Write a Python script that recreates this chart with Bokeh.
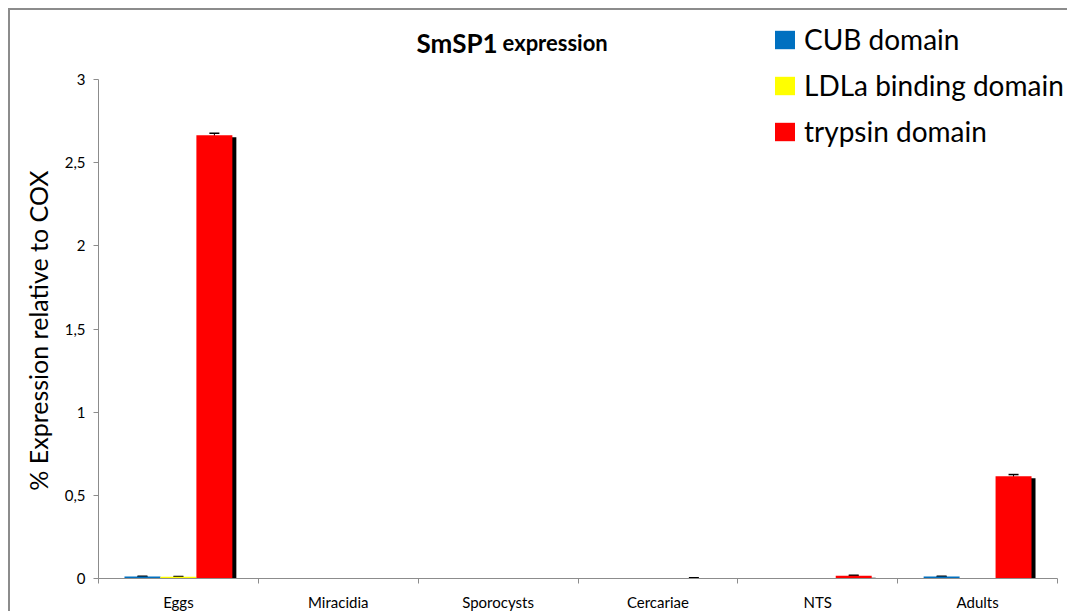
from bokeh.plotting import figure
from bokeh.models import (ColumnDataSource, Whisker, TeeHead, FixedTicker, Legend, LegendItem,
                          Label, Range1d, Title)
from bokeh.embed import file_html
from bokeh.resources import INLINE

categories = ["Eggs", "Miracidia", "Sporocysts", "Cercariae", "NTS", "Adults"]
series = ["CUB domain", "LDLa binding domain", "trypsin domain"]
cub = [0.012, 0, 0, 0, 0, 0.012]
cub_err = [0.002, 0, 0, 0, 0, 0.002]
ldla = [0.01, 0, 0, 0, 0, 0]
ldla_err = [0.002, 0, 0, 0, 0, 0]
trypsin = [2.665, 0, 0, 0.002, 0.016, 0.615]
trypsin_err = [0.012, 0, 0, 0.003, 0.003, 0.01]
y_ticks = [0, 0.5, 1, 1.5, 2, 2.5, 3]
y_tick_labels = ["0", "0,5", "1", "1,5", "2", "2,5", "3"]
y_title = "% Expression relative to COX"

colors = ["#0070C0", "#FFFF00", "#FF0000"]
FONT = "Lato"
BAR_W = 0.225
offsets = [-BAR_W, 0.0, BAR_W]
SH_DX = 0.025   # shadow shift (x units)
SH_DY = 0.012   # shadow shift (y units)
Y_AXIS_MAX = 3
Y_VIEW_END = 3 * 568 / 499     # room above the axis for title and legend
X_VIEW_END = 6 * 971 / 959     # room right of the axis for the legend text

p = figure(width=1059, height=603, output_backend="svg", toolbar_location=None,
           x_range=Range1d(0, X_VIEW_END), y_range=Range1d(0, Y_VIEW_END),
           min_border_left=88, min_border_right=0, min_border_top=0, min_border_bottom=35)
p.styles = {"margin-left": "8px", "margin-top": "8px",
            "border-left": "2px solid #8c8c8c", "border-top": "2px solid #8c8c8c"}
p.outline_line_color = None
p.xgrid.grid_line_color = None
p.ygrid.grid_line_color = None
p.background_fill_color = "white"
p.border_fill_color = "white"

all_vals = [cub, ldla, trypsin]
all_errs = [cub_err, ldla_err, trypsin_err]
items = []
for k, (name, vals, errs) in enumerate(zip(series, all_vals, all_errs)):
    xs = [i + 0.5 + offsets[k] for i in range(len(categories))]
    src = ColumnDataSource(dict(x=xs, top=vals))
    shadow = ColumnDataSource(dict(x=[x + SH_DX for x in xs], top=[max(v - SH_DY, 0) for v in vals]))
    p.vbar(x="x", top="top", width=BAR_W, source=shadow, fill_color="black", line_color=None)
    r = p.vbar(x="x", top="top", width=BAR_W, source=src, fill_color=colors[k], line_color=None)
    items.append(LegendItem(label=name, renderers=[r]))
    ex = [x for x, e in zip(xs, errs) if e > 0]
    ev = [v for v, e in zip(vals, errs) if e > 0]
    ee = [e for e in errs if e > 0]
    esrc = ColumnDataSource(dict(x=ex, lo=[v - e for v, e in zip(ev, ee)], hi=[v + e for v, e in zip(ev, ee)]))
    w = Whisker(base="x", lower="lo", upper="hi", source=esrc, line_color="black", line_width=1,
                upper_head=TeeHead(size=10, line_color="black", line_width=1.5),
                lower_head=TeeHead(size=10, line_color="black", line_width=1.5))
    p.add_layout(w)

# axes
ax = p.xaxis[0]
ax.bounds = (0, len(categories))
ax.ticker = FixedTicker(ticks=[i + 0.5 for i in range(len(categories))],
                        minor_ticks=list(range(len(categories) + 1)))
ax.major_label_overrides = {i + 0.5: c for i, c in enumerate(categories)}
ax.major_tick_line_color = None
ax.major_tick_out = 0
ax.major_tick_in = 0
ax.minor_tick_line_color = "#8c8c8c"
ax.minor_tick_out = 5
ax.minor_tick_in = 0
ax.axis_line_color = "#8c8c8c"
ax.major_label_text_font = FONT
ax.major_label_text_font_size = "15px"
ax.major_label_text_color = "black"
ax.major_label_standoff = 9

ay = p.yaxis[0]
ay.bounds = (0, Y_AXIS_MAX)
ay.ticker = FixedTicker(ticks=y_ticks, minor_ticks=[])
ay.major_label_overrides = dict(zip(y_ticks, y_tick_labels))
ay.axis_line_color = "#8c8c8c"
ay.major_tick_line_color = "#8c8c8c"
ay.major_tick_out = 5
ay.major_tick_in = 0
ay.minor_tick_line_color = None
ay.major_label_text_font = FONT
ay.major_label_text_font_size = "15px"
ay.major_label_text_color = "black"
ay.major_label_standoff = 8

# y axis title, placed along the 0..3 axis span rather than the whole frame
ytitle = Title(text=y_title, align="right", offset=160, standoff=18,
               text_font=FONT, text_font_style="normal", text_font_size="25px", text_color="black")
p.add_layout(ytitle, "left")

# chart title (two sizes)
t1 = Label(x=2.497, y=3.222, text="SmSP1", text_align="right", text_baseline="alphabetic",
           text_font=FONT, text_font_style="bold", text_font_size="26px", text_color="black")
t2 = Label(x=2.528, y=3.222, text="expression", text_align="left", text_baseline="alphabetic",
           text_font=FONT, text_font_style="bold", text_font_size="22px", text_color="black")
p.add_layout(t1)
p.add_layout(t2)

legend = Legend(items=items, location=(674, 430), orientation="vertical",
                glyph_width=25, glyph_height=23, label_text_font=FONT,
                label_text_font_size="28px", label_text_color="black",
                spacing=12, padding=0, margin=0, label_standoff=7,
                border_line_color=None, background_fill_alpha=0)
p.add_layout(legend, "center")

open("out.html", "w").write(file_html(p, INLINE))
